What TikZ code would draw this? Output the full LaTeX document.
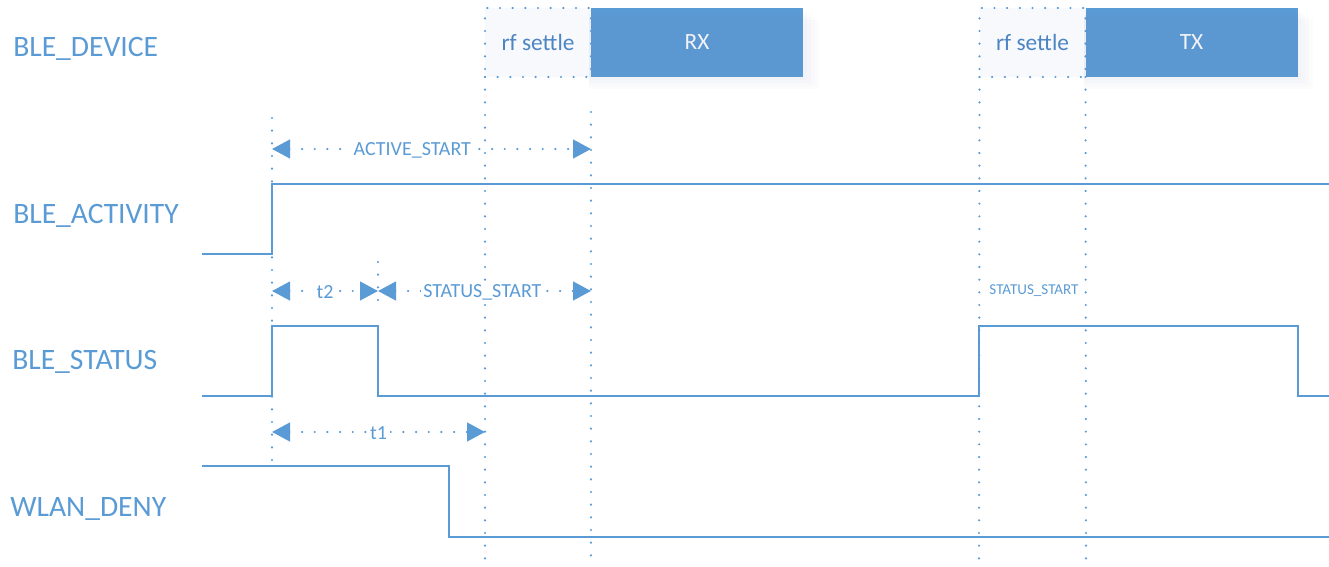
\documentclass[tikz,border=0pt]{standalone}
\usepackage{fontspec}
\setmainfont{Carlito}
\usepackage{xcolor}
\usetikzlibrary{arrows.meta,positioning,calc}
\definecolor{bleblue}{RGB}{91,155,213}
\definecolor{settletxt}{RGB}{76,132,196}
\definecolor{haze}{RGB}{120,130,190}

\begin{document}
\begin{tikzpicture}[x=0.75pt,y=-0.75pt,
	sig/.style={bleblue,line width=2.1pt},
	guide/.style={bleblue,line width=1.8pt,dash pattern=on 0pt off 9.5pt,line cap=round},
	span/.style={guide,{Triangle[length=13.5pt,width=14pt]}-{Triangle[length=13.5pt,width=14pt]}},
	spanlbl/.style={fill=white,text=bleblue,inner sep=2pt,font=\fontsize{15}{18}\selectfont},
	rowlbl/.style={anchor=base west,text=bleblue,inner sep=0pt,font=\fontsize{22.2}{26}\selectfont},
	settlebox/.style={draw=bleblue,guide,fill=haze!5,minimum width=79.5pt,minimum height=51.75pt,
		inner sep=0pt,outer sep=0pt,text=settletxt,font=\fontsize{17.5}{21}\selectfont},
	radiobox/.style={fill=bleblue,minimum width=159pt,minimum height=51.75pt,
		inner sep=0pt,outer sep=0pt,text=white,font=\fontsize{17.5}{21}\selectfont}]
	\useasboundingbox (0,0) rectangle (1329,567);
	
	% row names
	\node[rowlbl] (ndev) at (13,56.5) {BLE\_DEVICE};
	\node[rowlbl] (nact) at (13,223) {BLE\_ACTIVITY};
	\node[rowlbl] (nsta) at (12,369.5) {BLE\_STATUS};
	\node[rowlbl] (nwln) at (10,516.5) {WLAN\_DENY};
	
	% radio boxes
	\node[settlebox] (setA) at (538,42.5) {rf settle};
	\node[radiobox,right=0pt of setA] (rx) {RX};
	\node[settlebox] (setB) at (1032.5,42.5) {rf settle};
	\node[radiobox,right=0pt of setB] (tx) {TX};
	\foreach \b in {rx,tx}
	\foreach \g in {3,6,9,12}
	\fill[haze,opacity=0.025] ($(\b.north west)+(-2,\g)$) rectangle ($(\b.south east)+(\g*1.3,\g)$);
	
	% time marks
	\coordinate (m1) at (272,0);
	\coordinate (m2) at (378,0);
	\coordinate (m3) at (485,0);
	\coordinate (m4) at (591,0);
	\coordinate (m5) at (979,0);
	\coordinate (m6) at (1086,0);
	
	\draw[guide] (m1|-0,118) -- (m1|-0,462);
	\draw[guide] (m2|-0,262) -- (m2|-0,302);
	\draw[guide] (setA.south west) -- (m3|-0,567);
	\draw[guide] (m4|-0,112) -- (m4|-0,567);
	\draw[guide] (setB.south west) -- (m5|-0,567);
	\draw[guide] (setB.south east) -- (m6|-0,567);
	
	% signals
	\draw[sig] (202,254) -- (272,254) -- (272,184) -- (1329,184);
	\draw[sig] (202,396) -- (272,396) -- (272,326) -- (378,326) -- (378,396)
	-- (979,396) -- (979,326) -- (1298,326) -- (1298,396) -- (1329,396);
	\draw[sig] (202,466) -- (449,466) -- (449,537) -- (1329,537);
	
	% spans
	\draw[span] (m1|-0,149) -- (m4|-0,149) node[spanlbl,pos=0.44,yshift=-1pt] (lact) {ACTIVE\_START};
	\draw[span] (m1|-0,291) -- (m2|-0,291) node[spanlbl,pos=0.5,yshift=-1pt] (lt2) {t2};
	\draw[span] (m2|-0,291) -- (m4|-0,291) node[spanlbl,pos=0.49,yshift=-1pt] (lss) {STATUS\_START};
	\draw[span] (m1|-0,432) -- (m3|-0,432) node[spanlbl,pos=0.5,yshift=-1pt] (lt1) {t1};
	\node[spanlbl,font=\fontsize{11.3}{13}\selectfont] (lss2) at (1034,291) {STATUS\_START};
\end{tikzpicture}
\end{document}
